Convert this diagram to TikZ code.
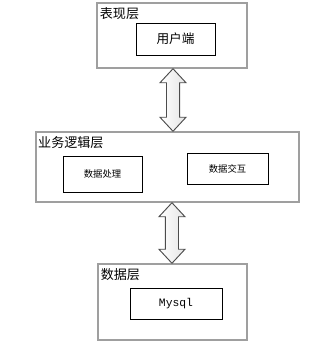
\documentclass[tikz,border=0pt]{standalone}
\usepackage{fontspec}
\newfontfamily\cjk{Noto Sans CJK SC}
\newfontfamily\monofont{Liberation Mono}
\usetikzlibrary{calc}

\tikzset{
  layerbox/.style={draw=gray!75,line width=1.1pt,fill=white},
  innerbox/.style={draw=black,line width=0.75pt,fill=white},
  layertitle/.style={anchor=north west,inner sep=1pt,font=\cjk\fontsize{9.8pt}{10pt}\selectfont},
  bigarrow/.style={draw=gray!60!black,line width=0.7pt,left color=white,right color=gray!20}
}

\begin{document}
\begin{tikzpicture}[x=0.75pt,y=-0.75pt]
  \useasboundingbox (0,0) rectangle (333,347);
  % 表现层
  \node[layerbox,minimum width=112.5pt,minimum height=48.75pt] (show) at (172,35.5) {};
  \node[layertitle] (showlbl) at ([xshift=1.5pt,yshift=-3pt]show.north west) {表现层};
  \node[innerbox,minimum width=59.25pt,minimum height=24pt,font=\cjk\fontsize{9.5pt}{10pt}\selectfont] (client) at (175.5,39) {用户端};
  % 业务逻辑层
  \node[layerbox,minimum width=197.25pt,minimum height=52.5pt] (logic) at (167.5,167) {};
  \node[layertitle] (logiclbl) at ([xshift=1pt,yshift=-3pt]logic.north west) {业务逻辑层};
  \node[innerbox,minimum width=59.25pt,minimum height=27pt,font=\cjk\fontsize{7pt}{8pt}\selectfont] (proc) at (102.5,174) {数据处理};
  \node[innerbox,minimum width=60.75pt,minimum height=23.25pt,font=\cjk\fontsize{7pt}{8pt}\selectfont] (inter) at (227.5,168.5) {数据交互};
  % 数据层
  \node[layerbox,minimum width=111.75pt,minimum height=57pt] (data) at (172.5,302) {};
  \node[layertitle] (datalbl) at ([xshift=1.5pt,yshift=-3pt]data.north west) {数据层};
  \node[innerbox,minimum width=69pt,minimum height=23.25pt,font=\monofont\fontsize{8.5pt}{9pt}\selectfont] (mysql) at (176,303.5) {Mysql};
  % 双向箭头
  \path[bigarrow] let \p1=([xshift=0.75pt]show.south), \p2=([xshift=0.75pt]logic.north) in
    (\x1,\y1) -- (\x1+9.75pt,\y1-10.5pt) -- (\x1+4.9pt,\y1-10.5pt) -- (\x1+4.9pt,\y2+10.5pt)
    -- (\x1+9.75pt,\y2+10.5pt) -- (\x1,\y2) -- (\x1-9.75pt,\y2+10.5pt) -- (\x1-4.9pt,\y2+10.5pt)
    -- (\x1-4.9pt,\y1-10.5pt) -- (\x1-9.75pt,\y1-10.5pt) -- cycle;
  \path[bigarrow] let \p1=([xshift=3.4pt]logic.south), \p2=([xshift=-0.4pt]data.north) in
    (\x2,\y1) -- (\x2+9.75pt,\y1-10.5pt) -- (\x2+4.9pt,\y1-10.5pt) -- (\x2+4.9pt,\y2+10.5pt)
    -- (\x2+9.75pt,\y2+10.5pt) -- (\x2,\y2) -- (\x2-9.75pt,\y2+10.5pt) -- (\x2-4.9pt,\y2+10.5pt)
    -- (\x2-4.9pt,\y1-10.5pt) -- (\x2-9.75pt,\y1-10.5pt) -- cycle;
\end{tikzpicture}
\end{document}
